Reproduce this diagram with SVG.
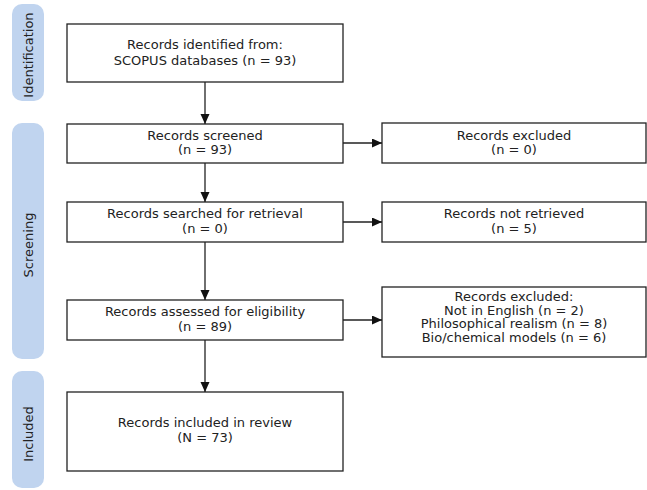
<svg xmlns="http://www.w3.org/2000/svg" width="647" height="490" viewBox="0 0 647 490">
<defs>
<style>
.box{fill:#fff;stroke:#222;stroke-width:1.3}
.bar{fill:#c0d4ef}
text{font-family:"DejaVu Sans",Verdana,sans-serif;font-size:13px;fill:#222;text-anchor:middle}
.con{stroke:#222;stroke-width:1.3;fill:none;marker-end:url(#ah)}
</style>
<marker id="ah" markerWidth="10" markerHeight="10" refX="10" refY="4.5" orient="auto" markerUnits="userSpaceOnUse">
<path d="M0,0 L10,4.5 L0,9 Z" fill="#111"/>
</marker>
</defs>
<g id="phase-identification"><rect class="bar" x="12" y="4" width="32" height="97" rx="10"/><text transform="translate(33,55) rotate(-90)">Identification</text></g>
<g id="phase-screening"><rect class="bar" x="12" y="123" width="32" height="236" rx="10"/><text transform="translate(33,245) rotate(-90)">Screening</text></g>
<g id="phase-included"><rect class="bar" x="12" y="371" width="32" height="117" rx="10"/><text transform="translate(33,434) rotate(-90)">Included</text></g>
<g id="n1"><rect class="box" x="67" y="24" width="276" height="58"/><text x="205" y="49">Records identified from:</text><text x="205" y="65">SCOPUS databases (n = 93)</text></g>
<g id="n2"><rect class="box" x="67" y="124" width="276" height="39"/><text x="205" y="140">Records screened</text><text x="205" y="154">(n = 93)</text></g>
<g id="n3"><rect class="box" x="382" y="123" width="264" height="40"/><text x="514" y="140">Records excluded</text><text x="514" y="154">(n = 0)</text></g>
<g id="n4"><rect class="box" x="67" y="202" width="276" height="40"/><text x="205" y="218">Records searched for retrieval</text><text x="205" y="233">(n = 0)</text></g>
<g id="n5"><rect class="box" x="382" y="202" width="264" height="40"/><text x="514" y="218">Records not retrieved</text><text x="514" y="233">(n = 5)</text></g>
<g id="n6"><rect class="box" x="67" y="300" width="276" height="40"/><text x="205" y="316">Records assessed for eligibility</text><text x="205" y="331">(n = 89)</text></g>
<g id="n7"><rect class="box" x="382" y="287" width="264" height="70"/><text x="514" y="301">Records excluded:</text><text x="514" y="314.5">Not in English (n = 2)</text><text x="514" y="328">Philosophical realism (n = 8)</text><text x="514" y="341.5">Bio/chemical models (n = 6)</text></g>
<g id="n8"><rect class="box" x="67" y="392" width="276" height="79"/><text x="205" y="427">Records included in review</text><text x="205" y="442">(N = 73)</text></g>
<g id="connectors">
<line class="con" x1="205" y1="82" x2="205" y2="124"/>
<line class="con" x1="205" y1="163" x2="205" y2="202"/>
<line class="con" x1="205" y1="242" x2="205" y2="300"/>
<line class="con" x1="205" y1="340" x2="205" y2="392"/>
<line class="con" x1="343" y1="143" x2="382" y2="143"/>
<line class="con" x1="343" y1="222" x2="382" y2="222"/>
<line class="con" x1="343" y1="320" x2="382" y2="320"/>
</g>
</svg>
